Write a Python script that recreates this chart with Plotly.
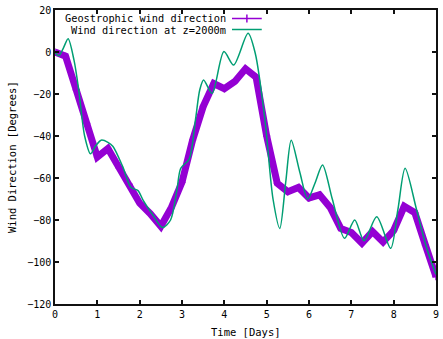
import plotly.graph_objects as go

# Geostrophic wind direction (every 6 h)
geo_days = [0, 0.25, 0.5, 0.75, 1.0, 1.25, 1.5, 1.75, 2.0, 2.25, 2.5, 2.75, 3.0, 3.25,
            3.5, 3.75, 4.0, 4.25, 4.5, 4.75, 5.0, 5.25, 5.5, 5.75, 6.0, 6.25, 6.5, 6.75,
            7.0, 7.25, 7.5, 7.75, 8.0, 8.25, 8.5, 8.75, 9.0]
geo_dir = [0, -2, -18, -34, -50, -46, -55, -63, -72, -77, -83, -74, -62, -42,
           -26, -15, -17.5, -14, -8, -12, -40, -62.5, -66.5, -64.5, -69.5, -68, -74, -84,
           -86, -91, -85.5, -90.5, -85, -73.5, -76.5, -92, -107]

# Wind direction at z=2000m
w_days = [0, 0.09, 0.2, 0.31, 0.45, 0.56, 0.7, 0.84, 0.95, 1.09, 1.25, 1.37, 1.6, 1.79,
          1.96, 2.08, 2.31, 2.54, 2.73, 2.88, 2.97, 3.17, 3.32, 3.42, 3.51, 3.71, 3.99,
          4.22, 4.56, 4.73, 4.96, 5.15, 5.31, 5.45, 5.58, 5.78, 5.97, 6.15, 6.32, 6.55,
          6.84, 7.08, 7.3, 7.6, 7.93, 8.1, 8.27, 8.54, 8.77, 9.0]
w_dir = [0, -1.8, 2, 6.3, -4, -18, -40, -48.5, -45, -42, -43, -45, -54.6, -64.4,
         -66, -70.5, -77.6, -83.6, -80, -65.7, -55.4, -51, -32, -18, -13.3, -19.7, 0.2,
         -6.2, 8.9, -0.6, -32.4, -70, -84, -62, -42, -57, -70, -62, -53.8, -70,
         -88.7, -80, -89.9, -78.4, -93.5, -75, -55.4, -75, -92.7, -106]

x_ticks = list(range(0, 10))
y_ticks = list(range(-120, 21, 20))

PURPLE = "#9400D3"
GREEN = "#009E73"
FONT = "DejaVu Sans Mono"

fig = go.Figure()
fig.add_trace(go.Scatter(x=geo_days, y=geo_dir, mode="lines+markers",
                         line=dict(color=PURPLE, width=7),
                         marker=dict(symbol="cross-thin", size=5,
                                     line=dict(color=PURPLE, width=1.5)),
                         name="Geostrophic wind direction", showlegend=False))
fig.add_trace(go.Scatter(x=w_days, y=w_dir, mode="lines",
                         line=dict(color=GREEN, width=1.5, shape="spline", smoothing=0.8),
                         name="Wind direction at z=2000m", showlegend=False))

axis_common = dict(showline=True, mirror="allticks", linecolor="#111", linewidth=1.5,
                   ticks="inside", ticklen=4, tickcolor="#111", tickwidth=1.5,
                   showgrid=False, zeroline=False,
                   tickfont=dict(family=FONT, size=10, color="black"))

L, R, T, B = 54.5, 4.3, 10, 35
W, H = 443, 339
plot_h = H - T - B
plot_w = W - L - R

fig.update_layout(
    width=W, height=H,
    margin=dict(l=L, r=R, t=T, b=B),
    paper_bgcolor="white", plot_bgcolor="white",
    xaxis=dict(range=[0, 9], tickvals=x_ticks, **axis_common),
    yaxis=dict(range=[-120, 20], tickvals=y_ticks, **axis_common),
    font=dict(family=FONT, size=10.5, color="black"),
)

# axis titles
fig.add_annotation(text="Time [Days]", xref="paper", yref="paper", x=0.5, y=0,
                   xanchor="center", yanchor="middle", yshift=-27.5, showarrow=False,
                   font=dict(family=FONT, size=10.5))
fig.add_annotation(text="Wind Direction [Degrees]", xref="paper", yref="paper", x=0, y=0.5,
                   xanchor="center", yanchor="middle", xshift=-43, textangle=-90,
                   showarrow=False, font=dict(family=FONT, size=10.5))

# key (gnuplot style: right-justified text, then sample)
key_rows = [("Geostrophic wind direction", PURPLE, 18.5),
            ("Wind direction at z=2000m", GREEN, 29.5)]
for label, col, ypix in key_rows:
    yp = 1 - (ypix - T) / plot_h
    fig.add_annotation(text=label, xref="paper", yref="paper",
                       x=(228 - L) / plot_w, y=yp, xanchor="right", yanchor="middle",
                       showarrow=False, borderpad=0, font=dict(family=FONT, size=10.3))
    fig.add_shape(type="line", xref="paper", yref="paper",
                  x0=(233 - L) / plot_w, x1=(263 - L) / plot_w, y0=yp, y1=yp,
                  line=dict(color=col, width=1.5))
fig.add_shape(type="line", xref="paper", yref="paper",
              x0=(248 - L) / plot_w, x1=(248 - L) / plot_w,
              y0=1 - (14.5 - T) / plot_h, y1=1 - (22.5 - T) / plot_h,
              line=dict(color=PURPLE, width=1.5))

fig.write_html("out.html", config={"displayModeBar": False},
               post_script="document.body.style.margin='0';document.body.style.overflow='hidden';")
